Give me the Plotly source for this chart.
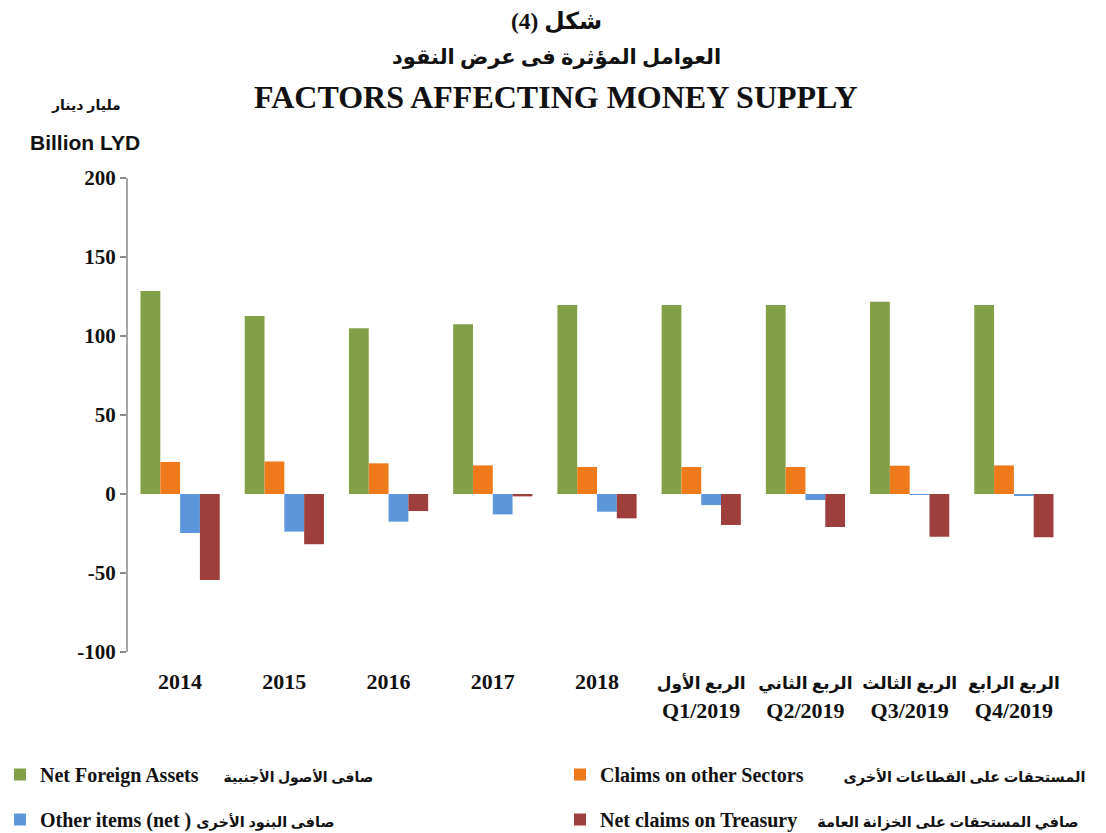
import plotly.graph_objects as go

ar = lambda s, sz: f'<span style="font-size:{sz}px">{s}</span>'

categories = ["2014", "2015", "2016", "2017", "2018",
              ar("الربع الأول", 17) + "<br>Q1/2019", ar("الربع الثاني", 17) + "<br>Q2/2019",
              ar("الربع الثالث", 17) + "<br>Q3/2019", ar("الربع الرابع", 17) + "<br>Q4/2019"]

net_foreign_assets = [128.5, 112.7, 104.9, 107.4, 119.6, 119.6, 119.6, 121.7, 119.6]
claims_other_sectors = [20.3, 20.6, 19.4, 18.1, 17.1, 17.1, 17.1, 17.9, 18.1]
other_items_net = [-24.7, -23.8, -17.5, -12.9, -11.2, -7.0, -3.8, -0.4, -1.0]
net_claims_treasury = [-54.4, -31.8, -10.8, -1.5, -15.4, -19.6, -20.9, -27.0, -27.4]

NB = "\u00a0"
series_names = [
    "Net Foreign Assets" + NB * 5 + ar("صافى الأصول الأجنبية", 14),
    "Claims on other Sectors" + NB * 8 + ar("المستحقات على القطاعات الأخرى", 14.5),
    "Other items (net )" + NB + ar("صافى البنود الأخرى", 14.5),
    "Net claims on Treasury" + NB * 4 + ar("صافي المستحقات على الخزانة العامة", 14.5),
]
series_colors = ["#84A046", "#EE7A1B", "#5E96DC", "#9E3F3D"]
series_values = [net_foreign_assets, claims_other_sectors, other_items_net, net_claims_treasury]
series_legend = ["legend", "legend2", "legend", "legend2"]

y_tickvals = [-100, -50, 0, 50, 100, 150, 200]
y_ticktext = ["-100", "-50", "0", "50", "100", "150", "200"]
y_range = [-100, 200]

SERIF = "Liberation Serif, Times New Roman, DejaVu Sans, serif"
SANS = "Liberation Sans, Arial, DejaVu Sans, sans-serif"

OFF = 8  # page body margin
W, H = 1106 - OFF, 833 - OFF
ML, MR, MT, MB = 128 - OFF, 40, 178 - OFF, 833 - 652
PW, PH = W - ML - MR, H - MT - MB

def px_x(px):  # screen pixel -> paper
    return (px - OFF - ML) / PW

def px_y(py):
    return (H - MB - (py - OFF)) / PH

fig = go.Figure()
for i, (name, vals, col, lg) in enumerate(zip(series_names, series_values, series_colors, series_legend)):
    fig.add_trace(go.Bar(
        x=categories, y=vals, name=name, marker_color=col,
        marker_line_width=0, legend=lg, legendgroup=f"g{i}", showlegend=True,
    ))

legend_font = dict(family=SERIF, size=20, color="#111", weight="bold")
for lg, lx in [("legend", 0), ("legend2", 560)]:
    fig.update_layout({lg: dict(x=px_x(lx), y=px_y(755), xanchor="left", yanchor="top",
                                orientation="v", tracegroupgap=16, visible=True,
                                font=legend_font, bgcolor="rgba(0,0,0,0)")})

zero_pos = (0 - y_range[0]) / (y_range[1] - y_range[0])
n = len(categories)

fig.update_layout(
    width=W, height=H,
    margin=dict(l=ML, r=MR, t=MT, b=MB, autoexpand=False),
    paper_bgcolor="white", plot_bgcolor="white",
    barmode="group", bargap=0.24, bargroupgap=0,
    xaxis=dict(
        type="category", showline=False, showgrid=False, zeroline=False,
        ticks="", tickangle=0,
        tickfont=dict(family=SERIF, size=22, color="#111", weight="bold"),
        range=[-0.5, n - 0.5], ticklabelstandoff=14,
    ),
    xaxis2=dict(
        overlaying="x", anchor="free", position=zero_pos, side="bottom",
        type="linear", range=[-0.5, n - 0.5],
        tickvals=[i - 0.5 for i in range(n + 1)],
        showticklabels=False, ticks="outside", ticklen=6, tickwidth=2,
        tickcolor="#8c8c8c", showline=True, linecolor="#8c8c8c", linewidth=2,
        showgrid=False, zeroline=False,
    ),
    yaxis=dict(
        range=y_range, tickvals=y_tickvals, ticktext=y_ticktext,
        showline=True, linecolor="#a6a6a6", linewidth=2,
        ticks="outside", ticklen=6, tickwidth=2, tickcolor="#8c8c8c",
        showgrid=False, zeroline=False,
        tickfont=dict(family=SERIF, size=21, color="#111", weight="bold"),
    ),
)

title_lines = [("شكل (4)", 21, 23.5, SERIF), ("العوامل المؤثرة فى عرض النقود", 57, 21, SERIF),
               ("FACTORS AFFECTING MONEY SUPPLY", 97, 32, SERIF)]
for txt, py, sz, fam in title_lines:
    fig.add_annotation(text=txt, x=px_x(556), y=px_y(py), xref="paper", yref="paper",
                       xanchor="center", yanchor="middle", showarrow=False,
                       font=dict(family=fam, size=sz, color="#111", weight="bold"))

fig.add_annotation(text="مليار دينار", x=px_x(86), y=px_y(105), xref="paper", yref="paper",
                   xanchor="center", yanchor="middle", showarrow=False,
                   font=dict(family=SANS, size=14, color="#111", weight="bold"))
fig.add_annotation(text="Billion LYD", x=px_x(85), y=px_y(142), xref="paper", yref="paper",
                   xanchor="center", yanchor="middle", showarrow=False,
                   font=dict(family=SANS, size=21, color="#111", weight="bold"))

fig.write_html("out.html")
